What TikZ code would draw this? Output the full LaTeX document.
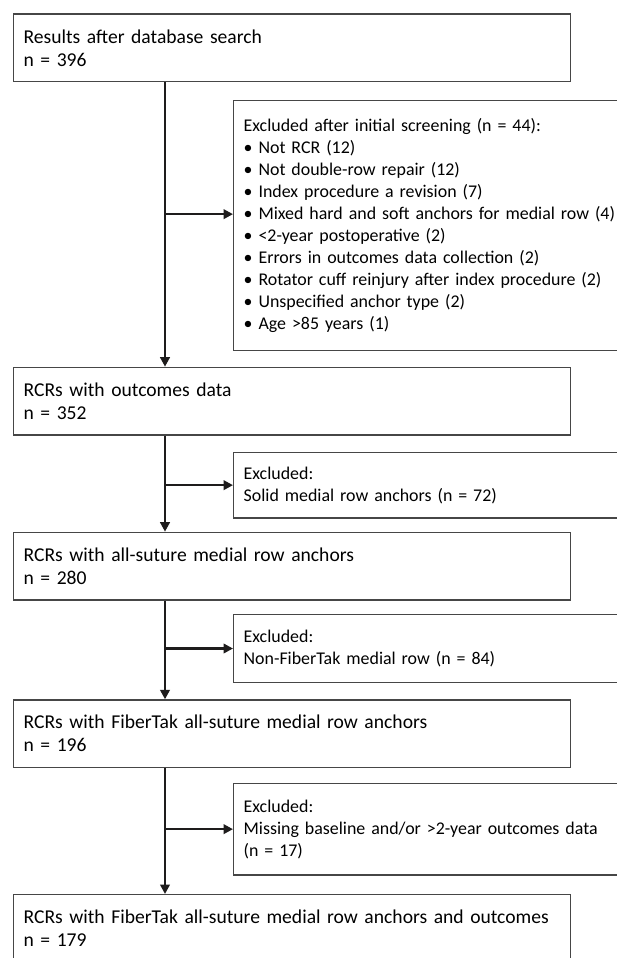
\documentclass[tikz,border=0pt]{standalone}
\usepackage{fontspec}
\setmainfont{Carlito}
\usepackage{xcolor}
\definecolor{flowline}{RGB}{30,28,28}
\definecolor{boxline}{RGB}{70,70,70}
\usepackage{tikz}
\usetikzlibrary{arrows.meta,positioning,calc}
\tikzset{
  mainbox/.style={draw=boxline, line width=1.3pt, anchor=north west, align=left, minimum width=557pt, text width=537pt, inner xsep=10pt, minimum height=67.5pt, font=\fontsize{19.6}{23}\selectfont},
  exclbox/.style={draw=boxline, line width=1.3pt, anchor=north west, align=left, minimum width=520pt, text width=500pt, inner xsep=10pt, font=\fontsize{17.9}{22}\selectfont},
  arr/.style={-{Triangle[length=9.5pt,width=9.5pt]}, line width=2.4pt, draw=flowline}
}

\begin{document}
\begin{tikzpicture}[x=1pt, y=-1pt]
  \useasboundingbox (0,0) rectangle (617,958);
  \clip (0,0) rectangle (617,958);
  \fill[white] (0,0) rectangle (617,958);
  \coordinate (trunk) at (165,0);
  % main flow
  \node[mainbox] (res) at (13,13.5) {Results after database search\\n = 396};
  \node[mainbox] (rcr) at (13,366.7) {RCRs with outcomes data\\n = 352};
  \node[mainbox] (allsut) at (13,531.7) {RCRs with all-suture medial row anchors\\n = 280};
  \node[mainbox] (fbt) at (13,699.3) {RCRs with FiberTak all-suture medial row anchors\\n = 196};
  \node[mainbox] (final) at (13,894) {RCRs with FiberTak all-suture medial row anchors and outcomes\\n = 179};
  % exclusions
  \node[exclbox, minimum height=250pt] (excl1) at (233,99.5) {Excluded after initial screening (n = 44):\\
    \textbullet{} Not RCR (12)\\
    \textbullet{} Not double-row repair (12)\\
    \textbullet{} Index procedure a revision (7)\\
    \textbullet{} Mixed hard and soft anchors for medial row (4)\\
    \textbullet{} <2-year postoperative (2)\\
    \textbullet{} Errors in outcomes data collection (2)\\
    \textbullet{} Rotator cuff reinjury after index procedure (2)\\
    \textbullet{} Unspecified anchor type (2)\\
    \textbullet{} Age >85 years (1)};
  \node[exclbox, minimum height=65.6pt] (excl2) at (233,451.7) {Excluded:\\Solid medial row anchors (n = 72)};
  \node[exclbox, minimum height=67.7pt] (excl3) at (233,614) {Excluded:\\Non-FiberTak medial row (n = 84)};
  \node[exclbox, minimum height=91.6pt] (excl4) at (233,782.7) {Excluded:\\Missing baseline and/or >2-year outcomes data\\(n = 17)};
  % connectors
  \draw[arr] (res.south -| trunk) -- (rcr.north -| trunk);
  \draw[arr] ([yshift=11pt]excl1.west -| trunk) -- ([yshift=11pt]excl1.west);
  \draw[arr] (rcr.south -| trunk) -- (allsut.north -| trunk);
  \draw[arr] (excl2.west -| trunk) -- (excl2.west);
  \draw[arr] (allsut.south -| trunk) -- (fbt.north -| trunk);
  \draw[arr] (excl3.west -| trunk) -- (excl3.west);
  \draw[arr] (fbt.south -| trunk) -- (final.north -| trunk);
  \draw[arr] (excl4.west -| trunk) -- (excl4.west);
\end{tikzpicture}
\end{document}
